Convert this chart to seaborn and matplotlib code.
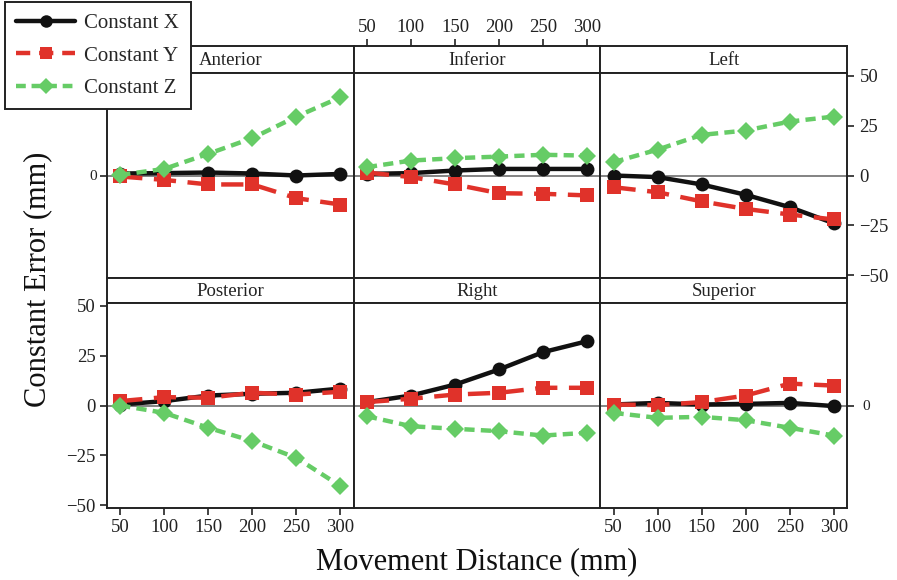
import numpy as np
import pandas as pd
import matplotlib
matplotlib.use("Agg")
import matplotlib.pyplot as plt
import seaborn as sns
from matplotlib.lines import Line2D

# ---------------- data ----------------
panels = ["Anterior", "Inferior", "Left", "Posterior", "Right", "Superior"]
distances = [50, 100, 150, 200, 250, 300]
series = ["Constant X", "Constant Y", "Constant Z"]

anterior_x = [1.0, 1.2, 1.5, 1.0, 0.0, 0.8]
anterior_y = [-0.5, -2.2, -4.5, -4.5, -11.4, -14.6]
anterior_z = [0.3, 3.3, 10.9, 18.8, 29.6, 39.3]

inferior_x = [0.8, 1.2, 2.5, 3.3, 3.3, 3.3]
inferior_y = [1.5, -0.8, -4.5, -8.9, -9.2, -10.0]
inferior_z = [4.2, 7.5, 8.7, 9.5, 10.4, 10.0]

left_x = [0.0, -0.8, -4.5, -9.7, -15.9, -24.0]
left_y = [-5.9, -8.4, -13.0, -16.8, -19.6, -22.1]
left_z = [6.7, 13.0, 20.4, 22.6, 27.1, 29.6]

posterior_x = [0.5, 2.2, 5.0, 5.9, 6.4, 8.5]
posterior_y = [2.2, 4.2, 3.9, 6.4, 5.5, 6.9]
posterior_z = [0.0, -3.7, -11.2, -17.9, -26.3, -40.5]

right_x = [1.7, 5.0, 10.5, 18.1, 26.8, 32.3]
right_y = [1.7, 3.4, 5.5, 6.4, 8.9, 8.9]
right_z = [-5.4, -10.4, -11.7, -12.9, -15.1, -13.7]

superior_x = [0.5, 1.3, 0.5, 0.8, 1.3, -0.3]
superior_y = [0.5, 0.2, 1.7, 5.0, 11.0, 10.0]
superior_z = [-3.7, -6.2, -5.7, -7.4, -11.2, -15.1]

y_ticks = [-50, -25, 0, 25, 50]

values = {
    "Anterior": (anterior_x, anterior_y, anterior_z),
    "Inferior": (inferior_x, inferior_y, inferior_z),
    "Left": (left_x, left_y, left_z),
    "Posterior": (posterior_x, posterior_y, posterior_z),
    "Right": (right_x, right_y, right_z),
    "Superior": (superior_x, superior_y, superior_z),
}

rows_ = []
for p in panels:
    for s, vals in zip(series, values[p]):
        for d, v in zip(distances, vals):
            rows_.append({"panel": p, "series": s, "dist": d, "err": v})
df = pd.DataFrame(rows_)

# ---------------- style ----------------
sns.set_style("white")
plt.rcParams["font.family"] = ["Liberation Serif", "DejaVu Serif"]

palette = {"Constant X": "#111111", "Constant Y": "#E0322A", "Constant Z": "#66CC66"}
markers = {"Constant X": "o", "Constant Y": "s", "Constant Z": "D"}
dashes = {"Constant X": "", "Constant Y": (5.0, 2.6), "Constant Z": (2.3, 1.4)}
msize = {"Constant X": 10, "Constant Y": 10, "Constant Z": 9}

W, H = 897, 580
fig = plt.figure(figsize=(W / 100, H / 100), dpi=100)


def fr(x0, y0, x1, y1):
    return [x0 / W, 1 - y1 / H, (x1 - x0) / W, (y1 - y0) / H]


col_edges = [107, 353.7, 600.3, 847]
row_edges = [(46, 73, 278), (278, 303, 508)]
XLIM = (35, 315)
YLIM = (-51.5, 51.5)
TICKFS = 13.5
SMALLFS = 11

for i, p in enumerate(panels):
    r, c = divmod(i, 3)
    s_top, s_bot, p_bot = row_edges[r]
    ax_s = fig.add_axes(fr(col_edges[c], s_top, col_edges[c + 1], s_bot))
    ax = fig.add_axes(fr(col_edges[c], s_bot, col_edges[c + 1], p_bot))

    sub = df[df["panel"] == p]
    ax.axhline(0, color="#7a7a7a", lw=1.3, zorder=1)
    for s in series:
        sns.lineplot(data=sub[sub["series"] == s], x="dist", y="err",
                     color=palette[s], marker=markers[s],
                     markersize=msize[s], markeredgewidth=0,
                     lw=3.2, errorbar=None, ax=ax, legend=False, zorder=3)
        if dashes[s]:
            ax.lines[-1].set_dashes(dashes[s])
    ax.set_xlim(*XLIM)
    ax.set_ylim(*YLIM)
    ax.set_xlabel("")
    ax.set_ylabel("")
    ax.set_xticks([])
    ax.set_yticks([])
    for sp in ax.spines.values():
        sp.set_color("#222222")
        sp.set_linewidth(1.4)
        sp.set_visible(True)
    ax.tick_params(direction="out", length=5, width=1.2, colors="#222222",
                   labelsize=TICKFS, pad=2, left=False, bottom=False)

    # strip
    ax_s.set_xlim(*XLIM)
    ax_s.set_yticks([])
    ax_s.set_xticks([])
    for sp in ax_s.spines.values():
        sp.set_color("#222222")
        sp.set_linewidth(1.4)
        sp.set_visible(True)
    ax_s.text(0.5, 0.47, p, transform=ax_s.transAxes, ha="center", va="center",
              fontsize=13.5, color="#222222")

    if p == "Anterior":
        ax.set_yticks([0])
        ax.set_yticklabels(["0"], fontsize=SMALLFS)
        ax.tick_params(left=True)
    if p == "Left":
        ax.yaxis.tick_right()
        ax.set_yticks(y_ticks)
        ax.set_yticklabels([str(t).replace("-", "\u2212") for t in y_ticks])
        ax.tick_params(right=True, labelright=True, direction="out", length=5,
                       width=1.2, pad=4)
    if p == "Posterior":
        ax.set_yticks(y_ticks)
        ax.set_yticklabels([str(t).replace("-", "\u2212") for t in y_ticks])
        ax.set_xticks(distances)
        ax.set_xticklabels([str(d) for d in distances])
        ax.tick_params(left=True, bottom=True, pad=3)
    if p == "Superior":
        ax.set_xticks(distances)
        ax.set_xticklabels([str(d) for d in distances])
        ax.tick_params(bottom=True, pad=3)
        ax2 = ax.twinx()
        ax2.set_ylim(*YLIM)
        ax2.set_yticks([0])
        ax2.set_yticklabels(["0"], fontsize=SMALLFS)
        ax2.tick_params(direction="out", length=5, width=1.2, colors="#222222", pad=6)
        for sp in ax2.spines.values():
            sp.set_visible(False)
    if p == "Inferior":
        ax_s.xaxis.tick_top()
        ax_s.set_xticks(distances)
        ax_s.set_xticklabels([str(d) for d in distances])
        ax_s.tick_params(top=True, direction="out", length=5, width=1.2,
                         colors="#222222", labelsize=TICKFS, pad=2)

fig.text(477 / W, 1 - 562 / H, "Movement Distance (mm)", ha="center", va="center",
         fontsize=22, color="#111111")
fig.text(38 / W, 1 - 279 / H, "Constant Error (mm)", ha="center", va="center",
         rotation=90, fontsize=22, color="#111111")

handles = []
for s in series:
    h = Line2D([], [], color=palette[s], marker=markers[s], markersize=msize[s] - 1,
               markeredgewidth=0, lw=3.2)
    if dashes[s]:
        h.set_dashes((2.2, 1.3) if s == "Constant Z" else (3.2, 2.0))
    handles.append(h)
leg = fig.legend(handles, series, loc="upper left", bbox_to_anchor=(5 / W, 1 - 2 / H),
                 borderaxespad=0, frameon=True, fancybox=False, edgecolor="#222222",
                 fontsize=15, handlelength=2.8, labelspacing=0.62, borderpad=0.55,
                 handletextpad=0.45, framealpha=1)
leg.get_frame().set_linewidth(1.4)
leg.set_zorder(10)

fig.savefig("out.png", dpi=100)
